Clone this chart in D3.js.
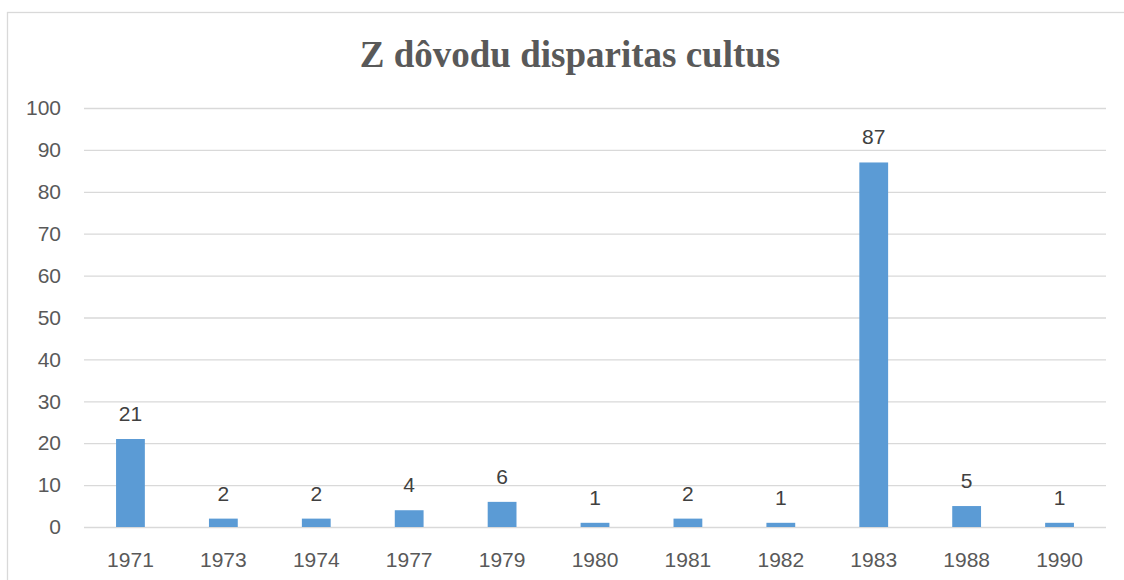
<!DOCTYPE html>
<html><head><meta charset="utf-8">
<script src="https://cdn.jsdelivr.net/npm/d3@7"></script>
<style>body{margin:0;background:#fff}svg{display:block}</style>
</head><body>
<svg id="c" width="1124" height="580"></svg>
<script>
const title = "Z dôvodu disparitas cultus";
const categories = ["1971","1973","1974","1977","1979","1980","1981","1982","1983","1988","1990"];
const values = [21,2,2,4,6,1,2,1,87,5,1];
const yTicks = [0,10,20,30,40,50,60,70,80,90,100];

const svg = d3.select("#c");
const W = 1124, H = 580;
const m = {left:84, right:18, top:108, bottom:53};
const x = d3.scaleBand().domain(categories).range([m.left, W - m.right]).paddingInner(0.69).paddingOuter(0.345);
const y = d3.scaleLinear().domain([0,100]).range([H - m.bottom, m.top]);

// frame
svg.append("rect").attr("x",7.5).attr("y",12.5).attr("width",1140).attr("height",600)
  .attr("fill","none").attr("stroke","#d9d9d9").attr("stroke-width",1.3);

// title
svg.append("text").attr("x",570).attr("y",67).attr("text-anchor","middle")
  .attr("font-family","'Liberation Serif','Times New Roman',serif").attr("font-weight","bold")
  .attr("font-size",37).attr("fill","#595959").text(title);

const fs = 21;
// grid
const yAxis = d3.axisLeft(y).tickValues(yTicks).tickSize(-(W - m.left - m.right)).tickPadding(23);
const gy = svg.append("g").attr("transform",`translate(${m.left},0)`).call(yAxis);
gy.select(".domain").remove();
gy.selectAll(".tick line").attr("stroke","#d9d9d9").attr("stroke-width",1.3);
gy.selectAll(".tick text").attr("font-family","'Liberation Sans',Arial,sans-serif").attr("font-size",fs).attr("fill","#595959");

// x axis labels
const xAxis = d3.axisBottom(x).tickSize(0).tickPadding(25);
const gx = svg.append("g").attr("transform",`translate(0,${H - m.bottom})`).call(xAxis);
gx.select(".domain").remove();
gx.selectAll(".tick text").attr("font-family","'Liberation Sans',Arial,sans-serif").attr("font-size",fs).attr("fill","#595959");

// bars
svg.append("g").selectAll("rect").data(values).join("rect")
  .attr("x",(d,i)=>x(categories[i])).attr("width",x.bandwidth())
  .attr("y",d=>y(d)).attr("height",d=>y(0)-y(d)).attr("fill","#5b9bd5");

// labels
svg.append("g").selectAll("text").data(values).join("text")
  .attr("x",(d,i)=>x(categories[i])+x.bandwidth()/2).attr("y",d=>y(d)-18)
  .attr("text-anchor","middle").attr("font-family","'Liberation Sans',Arial,sans-serif")
  .attr("font-size",fs).attr("fill","#404040").text(d=>d);
</script>
</body></html>
